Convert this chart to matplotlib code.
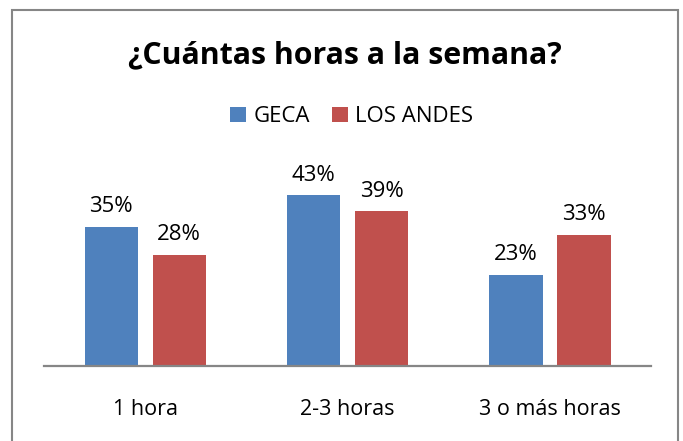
import matplotlib
matplotlib.use("Agg")
import matplotlib.pyplot as plt
import numpy as np
from matplotlib.patches import Rectangle

# --- datos ---
categorias = ['1 hora', '2-3 horas', '3 o más horas']
geca = [35, 43, 23]
los_andes = [28, 39, 33]
series_nombres = ['GECA', 'LOS ANDES']
titulo = '¿Cuántas horas a la semana?'

AZUL = '#4F81BD'
ROJO = '#C0504D'
GRIS = '#868686'
FUENTE = 'Open Sans'

fig = plt.figure(figsize=(6.83, 4.41), dpi=100)
ax = fig.add_axes([0.0644, 0.170, 0.889, 0.45])

x = np.arange(len(categorias))
ancho = 0.263
desplaz = 0.168
b1 = ax.bar(x - desplaz, geca, ancho, color=AZUL, label=series_nombres[0])
b2 = ax.bar(x + desplaz, los_andes, ancho, color=ROJO, label=series_nombres[1])

for barras in (b1, b2):
    for b in barras:
        ax.annotate(f'{int(b.get_height())}%',
                    (b.get_x() + b.get_width() / 2, b.get_height()),
                    xytext=(0, 7), textcoords='offset points',
                    ha='center', va='bottom', fontsize=16, family=FUENTE)

ax.set_xlim(-0.5, 2.5)
ax.set_ylim(0, 50)
ax.set_xticks(x)
ax.set_xticklabels(categorias, fontsize=15.5, family=FUENTE)
ax.tick_params(axis='x', length=0, pad=24)
ax.set_yticks([])
for lado in ('top', 'right', 'left'):
    ax.spines[lado].set_visible(False)
ax.spines['bottom'].set_color(GRIS)
ax.spines['bottom'].set_linewidth(1.6)

fig.text(0.505, 0.875, titulo, ha='center', va='center', fontsize=21.8,
         fontweight='bold', family=FUENTE)

fig.legend(handles=[b1, b2], labels=series_nombres, loc='center',
           bbox_to_anchor=(0.515, 0.735), ncol=2, frameon=False,
           prop={'family': FUENTE, 'size': 16}, handlelength=0.7,
           handleheight=0.7, handletextpad=0.35, columnspacing=1.0)

# marco del gráfico
fig.patches.append(Rectangle((12 / 683, -0.05), (678 - 12) / 683, 1.05 - 10 / 441,
                             transform=fig.transFigure, fill=False,
                             edgecolor=GRIS, linewidth=1.5))

plt.savefig('out.png', dpi=100)
